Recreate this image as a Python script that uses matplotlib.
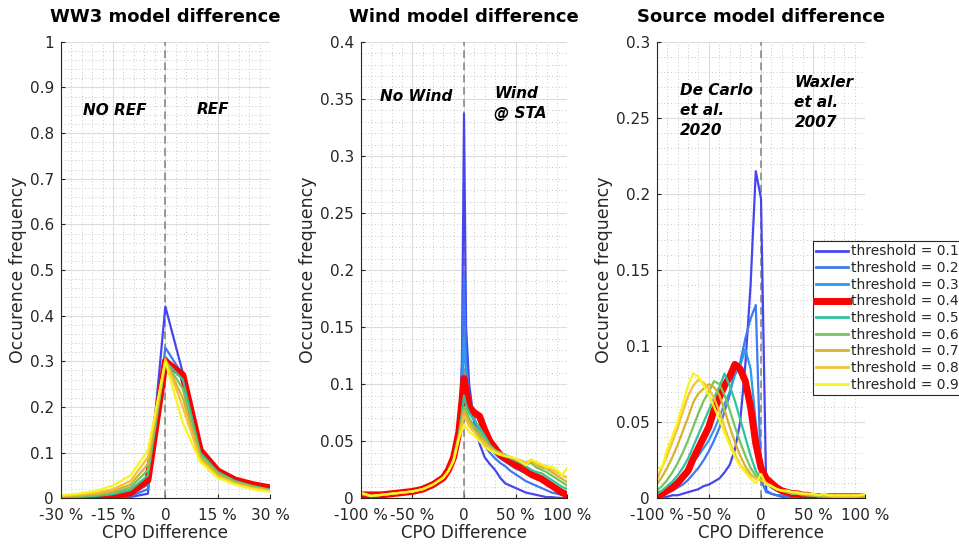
import matplotlib
matplotlib.use("Agg")
import matplotlib.pyplot as plt
from matplotlib.ticker import AutoMinorLocator

# ---- data ----
thresholds = [0.1, 0.2, 0.3, 0.4, 0.5, 0.6, 0.7, 0.8, 0.9]
colors = ['#4646ee', '#3f78f2', '#2c9bec', '#ff0000', '#30c29c',
          '#74c65c', '#d6b22e', '#f6c134', '#f8f41e']

# WW3 model difference
x_ww3 = [-30, -25, -20, -15, -10, -5, 0, 5, 10, 15, 20, 25, 30]
ww3 = [
    [0.000, 0.000, 0.000, 0.001, 0.003, 0.010, 0.420, 0.275, 0.100, 0.065, 0.042, 0.030, 0.022],
    [0.000, 0.000, 0.001, 0.002, 0.005, 0.020, 0.330, 0.270, 0.100, 0.063, 0.042, 0.030, 0.021],
    [0.001, 0.001, 0.002, 0.004, 0.008, 0.030, 0.310, 0.265, 0.100, 0.062, 0.041, 0.029, 0.020],
    [0.000, 0.001, 0.003, 0.006, 0.012, 0.040, 0.300, 0.270, 0.105, 0.060, 0.040, 0.030, 0.023],
    [0.002, 0.003, 0.005, 0.009, 0.018, 0.050, 0.300, 0.260, 0.100, 0.058, 0.038, 0.027, 0.019],
    [0.003, 0.004, 0.007, 0.012, 0.024, 0.062, 0.300, 0.240, 0.095, 0.055, 0.036, 0.026, 0.018],
    [0.004, 0.006, 0.009, 0.016, 0.030, 0.075, 0.300, 0.220, 0.090, 0.052, 0.034, 0.024, 0.017],
    [0.005, 0.008, 0.012, 0.020, 0.038, 0.090, 0.305, 0.200, 0.085, 0.048, 0.032, 0.022, 0.016],
    [0.007, 0.010, 0.016, 0.028, 0.050, 0.105, 0.300, 0.165, 0.080, 0.045, 0.030, 0.020, 0.014],
]

# Wind model difference
x_wind = [-100, -90, -80, -70, -60, -50, -40, -30, -20, -15, -10, -5, -2, 0, 2, 5,
          10, 15, 20, 25, 30, 35, 40, 45, 50, 55, 60, 65, 70, 75, 80, 85, 90, 95, 100]
wind = [
    [0.003, 0.002, 0.002, 0.003, 0.004, 0.006, 0.008, 0.011, 0.017, 0.023, 0.033, 0.055, 0.120, 0.337, 0.150, 0.100,
     0.065, 0.048, 0.036, 0.030, 0.025, 0.018, 0.013, 0.011, 0.009, 0.007, 0.005, 0.004, 0.003, 0.002, 0.001, 0.001, 0.0005, 0.0003, 0.000],
    [0.003, 0.002, 0.002, 0.003, 0.004, 0.006, 0.008, 0.011, 0.017, 0.023, 0.034, 0.055, 0.100, 0.195, 0.120, 0.090,
     0.070, 0.056, 0.046, 0.040, 0.035, 0.031, 0.028, 0.024, 0.021, 0.018, 0.015, 0.013, 0.011, 0.009, 0.007, 0.005, 0.004, 0.003, 0.002],
    [0.003, 0.002, 0.003, 0.003, 0.004, 0.006, 0.008, 0.012, 0.018, 0.024, 0.034, 0.056, 0.090, 0.140, 0.110, 0.085,
     0.070, 0.059, 0.050, 0.044, 0.039, 0.035, 0.032, 0.029, 0.026, 0.024, 0.022, 0.020, 0.018, 0.016, 0.013, 0.011, 0.009, 0.007, 0.005],
    [0.003, 0.003, 0.003, 0.004, 0.005, 0.006, 0.008, 0.012, 0.018, 0.025, 0.036, 0.058, 0.085, 0.105, 0.095, 0.080,
     0.075, 0.072, 0.060, 0.050, 0.044, 0.038, 0.035, 0.032, 0.029, 0.027, 0.024, 0.021, 0.019, 0.017, 0.014, 0.011, 0.008, 0.005, 0.003],
    [0.004, 0.002, 0.003, 0.004, 0.005, 0.006, 0.008, 0.012, 0.018, 0.024, 0.035, 0.056, 0.075, 0.090, 0.082, 0.075,
     0.068, 0.062, 0.055, 0.047, 0.042, 0.039, 0.037, 0.035, 0.033, 0.031, 0.028, 0.025, 0.023, 0.022, 0.019, 0.016, 0.013, 0.010, 0.008],
    [0.004, 0.002, 0.003, 0.004, 0.005, 0.006, 0.008, 0.012, 0.018, 0.024, 0.034, 0.055, 0.070, 0.080, 0.077, 0.070,
     0.063, 0.058, 0.052, 0.046, 0.042, 0.040, 0.038, 0.036, 0.034, 0.032, 0.030, 0.031, 0.027, 0.025, 0.023, 0.020, 0.017, 0.014, 0.011],
    [0.004, 0.002, 0.003, 0.004, 0.005, 0.006, 0.008, 0.012, 0.018, 0.024, 0.034, 0.054, 0.068, 0.077, 0.073, 0.067,
     0.060, 0.055, 0.050, 0.045, 0.041, 0.039, 0.037, 0.036, 0.034, 0.033, 0.031, 0.032, 0.029, 0.027, 0.026, 0.023, 0.020, 0.017, 0.014],
    [0.005, 0.002, 0.003, 0.004, 0.005, 0.006, 0.008, 0.012, 0.018, 0.024, 0.033, 0.053, 0.065, 0.072, 0.069, 0.063,
     0.058, 0.052, 0.048, 0.044, 0.041, 0.039, 0.037, 0.036, 0.035, 0.033, 0.031, 0.034, 0.030, 0.029, 0.028, 0.025, 0.023, 0.020, 0.018],
    [0.005, 0.002, 0.003, 0.004, 0.005, 0.006, 0.008, 0.012, 0.018, 0.024, 0.033, 0.052, 0.060, 0.065, 0.062, 0.058,
     0.055, 0.050, 0.045, 0.042, 0.040, 0.038, 0.037, 0.036, 0.035, 0.032, 0.029, 0.034, 0.032, 0.030, 0.027, 0.028, 0.025, 0.020, 0.027],
]

# Source model difference
x_src = [-100, -95, -90, -85, -80, -75, -70, -65, -60, -55, -50, -45, -40, -35, -30, -25, -20, -15, -10, -5, 0,
         5, 10, 15, 20, 25, 30, 35, 40, 45, 50, 55, 60, 65, 70, 75, 80, 85, 90, 95, 100]
src = [
    [0.001, 0.001, 0.001, 0.002, 0.002, 0.003, 0.004, 0.005, 0.006, 0.008, 0.009, 0.011, 0.013, 0.017, 0.022, 0.032, 0.050, 0.088, 0.140, 0.215, 0.197,
     0.005, 0.003, 0.002, 0.001, 0.001, 0.001, 0.001, 0.0005, 0.0005, 0.0005, 0.0005, 0.0005, 0.0, 0.0, 0.0, 0.0, 0.0, 0.0, 0.0, 0.0],
    [0.002, 0.003, 0.004, 0.005, 0.007, 0.009, 0.012, 0.016, 0.020, 0.025, 0.031, 0.038, 0.046, 0.057, 0.068, 0.085, 0.089, 0.105, 0.118, 0.127, 0.012,
     0.004, 0.003, 0.002, 0.002, 0.001, 0.001, 0.001, 0.001, 0.001, 0.0005, 0.0005, 0.0005, 0.0005, 0.0005, 0.0, 0.0, 0.0, 0.0, 0.0, 0.0],
    [0.003, 0.004, 0.006, 0.009, 0.012, 0.016, 0.020, 0.024, 0.028, 0.033, 0.038, 0.045, 0.053, 0.062, 0.070, 0.081, 0.087, 0.098, 0.085, 0.050, 0.020,
     0.010, 0.007, 0.005, 0.004, 0.003, 0.002, 0.002, 0.001, 0.001, 0.001, 0.001, 0.0005, 0.0005, 0.0005, 0.0005, 0.0005, 0.0005, 0.0005, 0.0005, 0.0005],
    [0.002, 0.003, 0.005, 0.007, 0.010, 0.014, 0.018, 0.026, 0.033, 0.040, 0.047, 0.058, 0.066, 0.074, 0.080, 0.088, 0.085, 0.077, 0.060, 0.036, 0.020,
     0.013, 0.010, 0.007, 0.005, 0.004, 0.003, 0.003, 0.002, 0.002, 0.001, 0.001, 0.001, 0.001, 0.001, 0.001, 0.001, 0.001, 0.001, 0.001, 0.001],
    [0.003, 0.005, 0.008, 0.011, 0.015, 0.020, 0.026, 0.034, 0.042, 0.050, 0.058, 0.066, 0.073, 0.082, 0.074, 0.064, 0.052, 0.040, 0.028, 0.018, 0.013,
     0.010, 0.008, 0.006, 0.005, 0.004, 0.003, 0.003, 0.002, 0.002, 0.002, 0.001, 0.001, 0.001, 0.001, 0.001, 0.001, 0.001, 0.001, 0.001, 0.001],
    [0.005, 0.008, 0.012, 0.017, 0.023, 0.030, 0.038, 0.047, 0.056, 0.064, 0.070, 0.077, 0.075, 0.068, 0.058, 0.047, 0.037, 0.028, 0.020, 0.015, 0.012,
     0.010, 0.008, 0.006, 0.005, 0.004, 0.003, 0.003, 0.003, 0.002, 0.002, 0.002, 0.001, 0.001, 0.001, 0.001, 0.001, 0.001, 0.001, 0.001, 0.001],
    [0.009, 0.014, 0.020, 0.027, 0.035, 0.044, 0.053, 0.063, 0.069, 0.072, 0.075, 0.073, 0.068, 0.058, 0.047, 0.037, 0.028, 0.021, 0.016, 0.013, 0.012,
     0.010, 0.008, 0.006, 0.005, 0.004, 0.004, 0.003, 0.003, 0.002, 0.002, 0.002, 0.002, 0.001, 0.001, 0.001, 0.001, 0.001, 0.001, 0.001, 0.002],
    [0.012, 0.020, 0.028, 0.037, 0.046, 0.057, 0.067, 0.074, 0.078, 0.076, 0.072, 0.066, 0.057, 0.047, 0.037, 0.029, 0.022, 0.018, 0.015, 0.013, 0.012,
     0.010, 0.008, 0.006, 0.005, 0.005, 0.004, 0.003, 0.003, 0.003, 0.002, 0.002, 0.002, 0.002, 0.001, 0.001, 0.001, 0.001, 0.001, 0.002, 0.002],
    [0.020, 0.020, 0.032, 0.041, 0.050, 0.062, 0.074, 0.082, 0.080, 0.074, 0.068, 0.060, 0.052, 0.043, 0.035, 0.027, 0.021, 0.017, 0.013, 0.010, 0.016,
     0.009, 0.008, 0.006, 0.005, 0.005, 0.004, 0.004, 0.003, 0.003, 0.003, 0.002, 0.003, 0.002, 0.002, 0.002, 0.002, 0.002, 0.002, 0.002, 0.003],
]

labels = ['threshold = %.1f' % t for t in thresholds]
dark = '#262626'

fig = plt.figure(figsize=(9.59, 5.45), dpi=100)
W, H = 959.0, 545.0
ax1 = fig.add_axes([60.7 / W, 1 - 498.3 / H, 209.3 / W, 456.5 / H])
ax2 = fig.add_axes([360.7 / W, 1 - 498.3 / H, 206.6 / W, 456.5 / H])
ax3 = fig.add_axes([656.7 / W, 1 - 498.3 / H, 208.6 / W, 456.5 / H])


def style(ax, title, xlim, xticks, xticklabels, ylim, yticks, yticklabels):
    ax.set_xlim(xlim)
    ax.set_ylim(ylim)
    ax.set_xticks(xticks)
    ax.set_xticklabels(xticklabels)
    ax.set_yticks(yticks)
    ax.set_yticklabels(yticklabels)
    ax.xaxis.set_minor_locator(AutoMinorLocator(5))
    ax.yaxis.set_minor_locator(AutoMinorLocator(5))
    ax.grid(which='major', color='#dcdcdc', linewidth=0.8, linestyle='-')
    ax.grid(which='minor', color='#c8c8c8', linewidth=0.7, linestyle=(0, (1, 2.5)))
    ax.set_axisbelow(True)
    for s in ['top', 'right']:
        ax.spines[s].set_visible(False)
    for s in ['left', 'bottom']:
        ax.spines[s].set_color(dark)
        ax.spines[s].set_linewidth(0.8)
    ax.tick_params(which='major', direction='in', length=3, colors=dark, labelsize=11, pad=5)
    ax.tick_params(axis='x', which='major', pad=7)
    ax.tick_params(which='minor', length=0)
    ax.set_title(title, fontsize=13, fontweight='bold', pad=14)
    ax.set_xlabel('CPO Difference', fontsize=12, color=dark, labelpad=1)
    ax.set_ylabel('Occurence frequency', fontsize=12.5, color=dark, labelpad=2)
    ax.axvline(0, color='#808080', linestyle=(0, (5, 3)), linewidth=1.1, zorder=1.5)


def draw(ax, x, series):
    lines = []
    for ys, c, lab in zip(series, colors, labels):
        lw = 5 if c == '#ff0000' else 1.6
        ln, = ax.plot(x, ys, color=c, linewidth=lw, label=lab, zorder=2)
        lines.append(ln)
    return lines


style(ax1, 'WW3 model difference', (-30, 30), [-30, -15, 0, 15, 30],
      ['-30 %', '-15 %', '0', '15 %', '30 %'], (0, 1),
      [i / 10 for i in range(11)], ['0', '0.1', '0.2', '0.3', '0.4', '0.5', '0.6', '0.7', '0.8', '0.9', '1'])
draw(ax1, x_ww3, ww3)
tkw = dict(fontsize=11, fontweight='bold', fontstyle='italic', color='black')
ax1.text(-14.5, 0.85, 'NO REF', ha='center', va='center', **tkw)
ax1.text(13.7, 0.852, 'REF', ha='center', va='center', **tkw)

style(ax2, 'Wind model difference', (-100, 100), [-100, -50, 0, 50, 100],
      ['-100 %', '-50 %', '0', '50 %', '100 %'], (0, 0.4),
      [i * 0.05 for i in range(9)], ['0', '0.05', '0.1', '0.15', '0.2', '0.25', '0.3', '0.35', '0.4'])
draw(ax2, x_wind, wind)
ax2.text(-46, 0.352, 'No Wind', ha='center', va='center', **tkw)
ax2.text(29, 0.346, 'Wind\n@ STA', ha='left', va='center', linespacing=1.4, **tkw)

style(ax3, 'Source model difference', (-100, 100), [-100, -50, 0, 50, 100],
      ['-100 %', '-50 %', '0', '50 %', '100 %'], (0, 0.3),
      [i * 0.05 for i in range(7)], ['0', '0.05', '0.1', '0.15', '0.2', '0.25', '0.3'])
lines = draw(ax3, x_src, src)
ax3.text(-78, 0.255, 'De Carlo\net al.\n2020', ha='left', va='center', linespacing=1.4, **tkw)
ax3.text(32, 0.26, 'Waxler\net al.\n2007', ha='left', va='center', linespacing=1.4, **tkw)

leg = fig.legend(handles=lines, loc='upper left', bbox_to_anchor=(813 / W, 1 - 241 / H),
                 fontsize=10, handlelength=2.3, handletextpad=0.2, labelspacing=0.19,
                 borderpad=0.25, borderaxespad=0, fancybox=False, framealpha=1)
leg.get_frame().set_edgecolor(dark)
leg.get_frame().set_linewidth(0.8)
for t in leg.get_texts():
    t.set_color(dark)
for l in leg.get_lines():
    l.set_linewidth(5 if l.get_color() == '#ff0000' else 2)

fig.savefig('out.png', dpi=100)
